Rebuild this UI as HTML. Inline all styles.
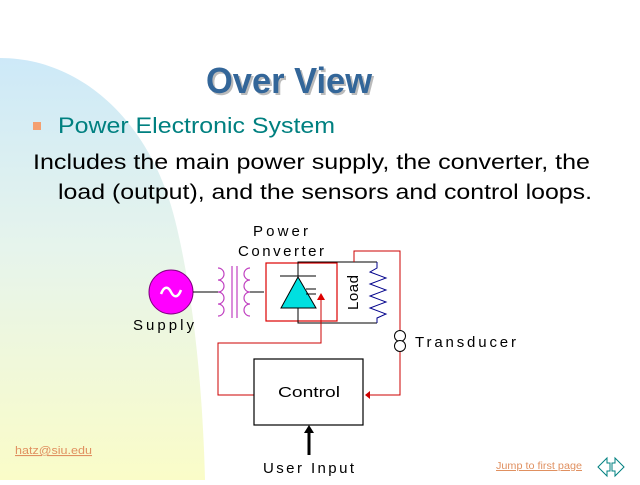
<!DOCTYPE html>
<html><head><style>
body{margin:0;width:640px;height:480px;overflow:hidden;background:#fff;font-family:"Liberation Sans",sans-serif}
</style></head><body>
<svg width="640" height="480" viewBox="0 0 640 480" xmlns="http://www.w3.org/2000/svg" font-family="Liberation Sans, sans-serif">
<defs>
<linearGradient id="g" x1="0" y1="0" x2="0" y2="1">
<stop offset="0" stop-color="#cde9f8"/><stop offset="0.45" stop-color="#e6f4ec"/><stop offset="1" stop-color="#fafcc8"/>
</linearGradient>
</defs>
<path d="M0,58 C80,58 150,120 175,220 C195,300 203,400 205,480 L0,480 Z" fill="url(#g)"/>
<text x="206" y="93" font-size="36" font-weight="bold" fill="#bbb" transform="translate(2,2)" textLength="166" lengthAdjust="spacingAndGlyphs">Over View</text>
<text x="206" y="93" font-size="36" font-weight="bold" fill="#336699" textLength="166" lengthAdjust="spacingAndGlyphs">Over View</text>
<rect x="33" y="122" width="8" height="8" fill="#f4a070"/>
<text x="58" y="133" font-size="22" fill="#008080" textLength="277" lengthAdjust="spacingAndGlyphs">Power Electronic System</text>
<text x="33" y="169" font-size="21" fill="#000" textLength="557" lengthAdjust="spacingAndGlyphs">Includes the main power supply, the converter, the</text>
<text x="58" y="199" font-size="21" fill="#000" textLength="534" lengthAdjust="spacingAndGlyphs">load (output), and the sensors and control loops.</text>
<g font-size="15" fill="#000" lengthAdjust="spacingAndGlyphs">
<text x="253" y="236" textLength="55">Power</text>
<text x="238" y="256" textLength="86">Converter</text>
<text x="133" y="330" textLength="61">Supply</text>
<text x="415" y="347" textLength="101">Transducer</text>
<text x="278" y="397" textLength="62">Control</text>
<text x="263" y="473" textLength="91">User Input</text>
<text transform="translate(358,310) rotate(-90)" textLength="35">Load</text>
</g>
<circle cx="171" cy="292" r="22" fill="#f0f" stroke="#800080" stroke-width="1"/>
<path d="M161,294 C164,286 168,286 171,292 C174,298 178,298 181,290" stroke="#fff" stroke-width="2.5" fill="none"/>
<line x1="193" y1="292" x2="218" y2="292" stroke="#000"/>
<g stroke="#c040c0" fill="none" stroke-width="1.2">
<path d="M218,268 a6,6 0 0 1 0,12 a6,6 0 0 1 0,12 a6,6 0 0 1 0,12 a6,6 0 0 1 0,12"/>
<path d="M250,268 a6,6 0 0 0 0,12 a6,6 0 0 0 0,12 a6,6 0 0 0 0,12 a6,6 0 0 0 0,12"/>
<line x1="232" y1="266" x2="232" y2="318"/><line x1="237" y1="266" x2="237" y2="318"/>
</g>
<line x1="250" y1="292" x2="264" y2="292" stroke="#000"/>
<rect x="266" y="263" width="71" height="58" fill="none" stroke="#d00" stroke-width="1.2"/>
<path d="M298,277 V262 H377 M298,308 V323 H377" stroke="#000" fill="none"/>
<line x1="280" y1="276" x2="316" y2="276" stroke="#000"/>
<polygon points="298,277 281,308 316,308" fill="#00e0e0" stroke="#000"/>
<line x1="306" y1="289" x2="316" y2="289" stroke="#000"/><line x1="306" y1="294" x2="316" y2="294" stroke="#000"/>
<path d="M377,262 V268 L370,272 L386,278 L370,284 L386,290 L370,296 L386,302 L370,308 L386,314 L377,318 V323" stroke="#00008b" fill="none"/>
<path d="M354,262 V251 H400 V334" stroke="#c00" fill="none"/>
<circle cx="400" cy="336" r="5.5" fill="#fff" stroke="#000"/><circle cx="400" cy="346" r="5.5" fill="#fff" stroke="#000"/>
<path d="M400,352 V395 H368" stroke="#c00" fill="none"/>
<polygon points="365,395 370,391 370,399" fill="#c00"/>
<path d="M321,299 V343 H218 V395 H258" stroke="#c00" fill="none"/>
<polygon points="321,293 317,300 325,300" fill="#d00"/>
<rect x="254" y="359" width="109" height="66" fill="#fff" stroke="#000" stroke-width="1.2"/>
<text x="278" y="397" font-size="15" textLength="62" lengthAdjust="spacingAndGlyphs">Control</text>
<line x1="309" y1="455" x2="309" y2="432" stroke="#000" stroke-width="3"/>
<polygon points="309,425 304,433 314,433" fill="#000"/>
<text x="15" y="454" font-size="11" fill="#e09060" text-decoration="underline" textLength="77" lengthAdjust="spacingAndGlyphs">hatz@siu.edu</text>
<text x="496" y="469" font-size="10" fill="#e09060" text-decoration="underline" textLength="86" lengthAdjust="spacingAndGlyphs">Jump to first page</text>
<polygon points="598,467 607,458 607,463 610,463 610,471 607,471 607,476" fill="#fff" stroke="#008080"/>
<polygon points="624,467 615,458 615,463 612,463 612,471 615,471 615,476" fill="#fff" stroke="#008080"/>
</svg>
</body></html>
